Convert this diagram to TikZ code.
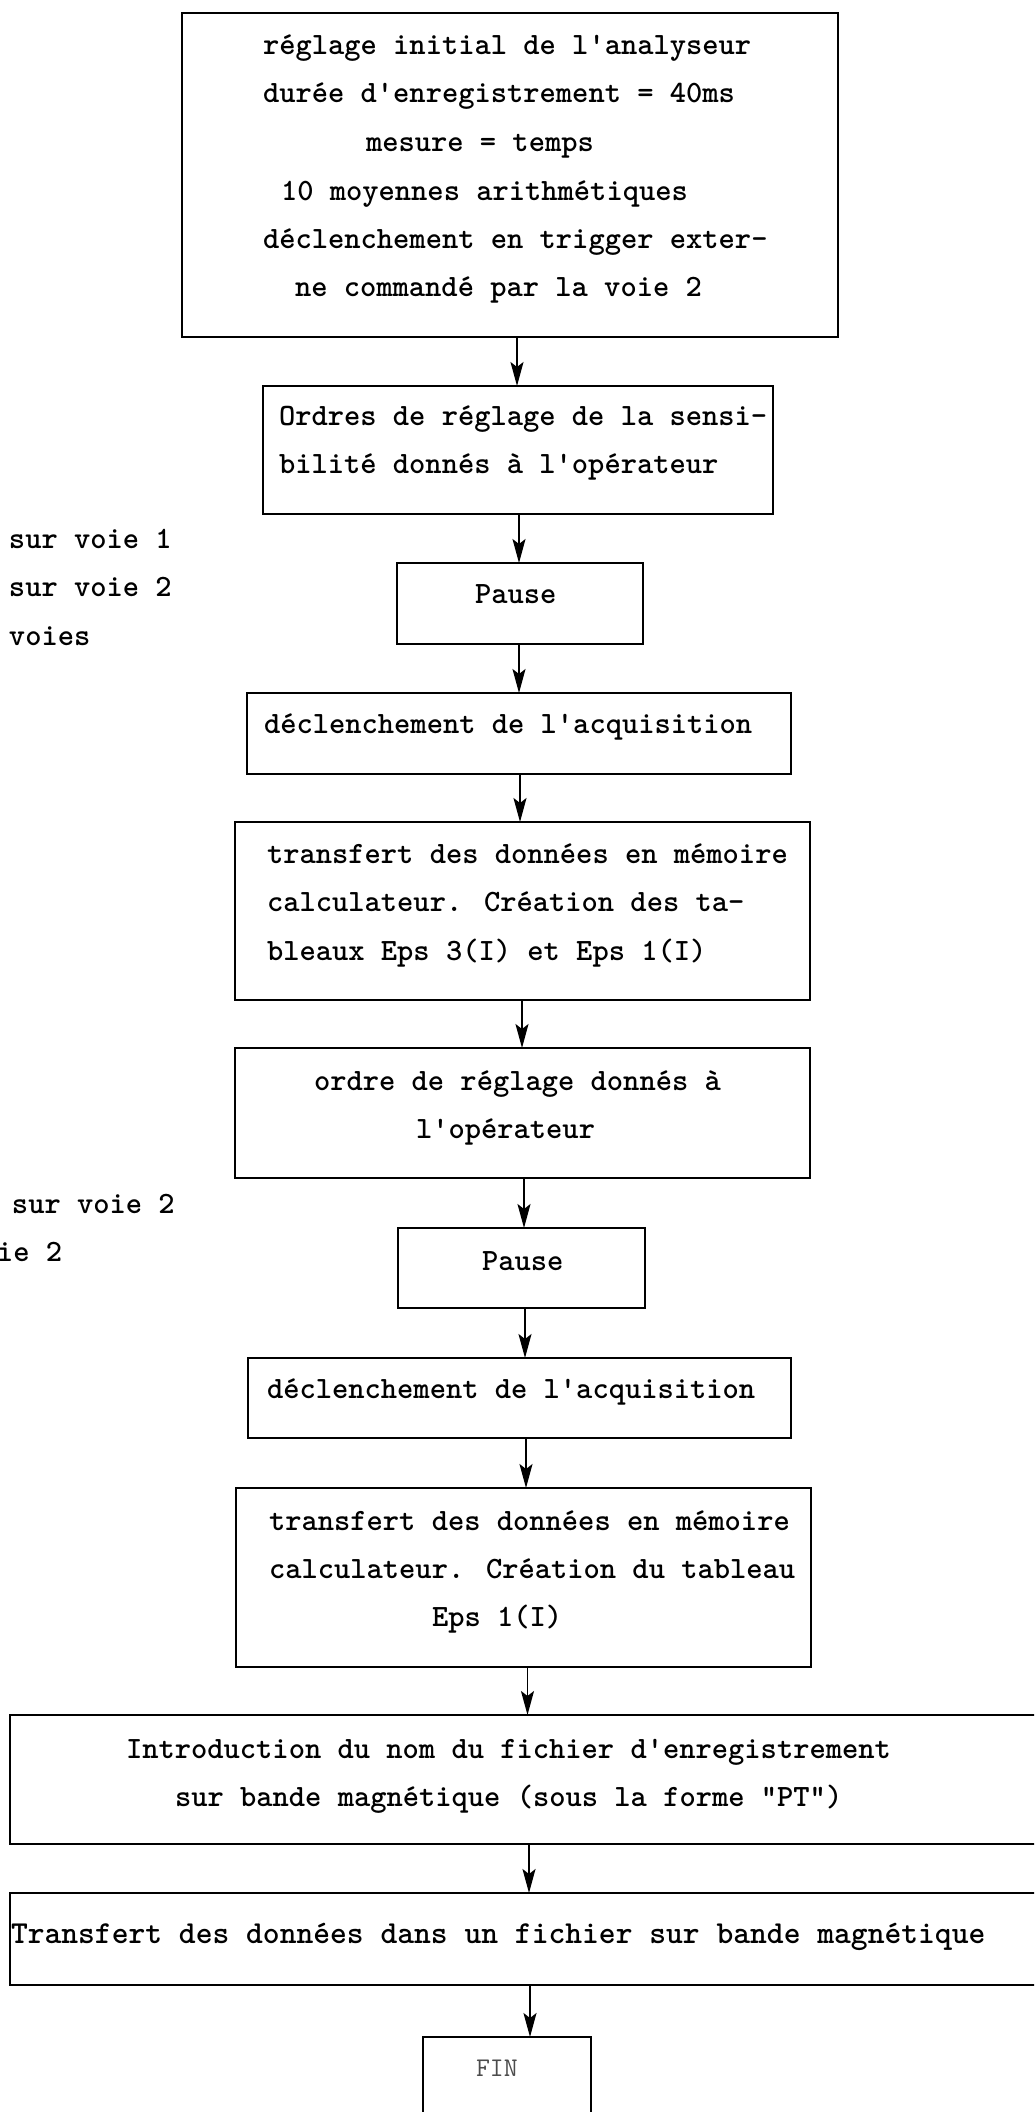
\documentclass[tikz,border=0pt]{standalone}
\usetikzlibrary{arrows.meta}
\newcommand\ap{\textquotesingle}
\begin{document}
\begin{tikzpicture}[x=1pt,y=-1pt]
\tikzset{
  box/.style={draw, line width=1.8pt, inner sep=0pt, outer sep=0pt},
  txt/.style={anchor=base west, inner sep=0pt, outer sep=0pt, font=\ttfamily\bfseries\fontsize{31}{48}\selectfont},
  arr/.style={line width=1.8pt, -{Stealth[length=24pt,width=13pt,inset=5pt]}},
}
\useasboundingbox (0,0) rectangle (1034,2112);
\clip (0,0) rectangle (1034,2112);
\fill[white] (0,0) rectangle (1034,2112);

% boxes
\node[box, minimum width=656pt, minimum height=324pt] (b1) at (510,175) {};
\node[box, minimum width=510pt, minimum height=128pt] (b2) at (518,450) {};
\node[box, minimum width=246pt, minimum height=81pt] (p1) at (520,603.5) {};
\node[box, minimum width=544pt, minimum height=81pt] (d1) at (519,733.5) {};
\node[box, minimum width=575pt, minimum height=178pt] (t1) at (522.5,911) {};
\node[box, minimum width=575pt, minimum height=130pt] (o1) at (522.5,1113) {};
\node[box, minimum width=247pt, minimum height=80pt] (p2) at (521.5,1268) {};
\node[box, minimum width=543pt, minimum height=80pt] (d2) at (519.5,1398) {};
\node[box, minimum width=575pt, minimum height=179pt] (t2) at (523.5,1577.5) {};
\node[box, minimum width=1040pt, minimum height=129pt] (in) at (530,1779.5) {};
\node[box, minimum width=1040pt, minimum height=92pt] (t3) at (530,1939) {};
\node[box, minimum width=168pt, minimum height=110pt] (fin) at (507,2092) {};

% texts
\node[txt] (l1) at (263,54) {réglage initial de l\ap analyseur};
\node[txt] (l2) at (263,102) {durée d\ap enregistrement = 40ms};
\node[txt] (l3) at (366,151) {mesure = temps};
\node[txt] (l4) at (281,200) {10 moyennes arithmétiques};
\node[txt] (l5) at (263,248) {déclenchement en trigger exter-};
\node[txt] (l6) at (295,296) {ne commandé par la voie 2};

\node[txt] (m1) at (279,425) {Ordres de réglage de la sensi-};
\node[txt] (m2) at (279,473) {bilité donnés à l\ap opérateur};

\node[txt] (s1) at (9,548) {sur voie 1};
\node[txt] (s2) at (9,596) {sur voie 2};
\node[txt] (s3) at (9,645) {voies};

\node[txt] (pa1) at (475,603) {Pause};
\node[txt] (dc1) at (264,733) {déclenchement de l\ap acquisition};

\node[txt] (n1) at (267,863) {transfert des données en mémoire};
\node[txt] (n2) at (267,911) {calculateur. Création des ta-};
\node[txt] (n3) at (267,960) {bleaux Eps 3(I) et Eps 1(I)};

\node[txt] (o1a) at (314,1090) {ordre de réglage donnés à};
\node[txt] (o1b) at (416,1138) {l\ap opérateur};

\node[txt] (s4) at (12,1213) {sur voie 2};
\node[txt] (s5) at (-3,1261) {ie 2};

\node[txt] (pa2) at (482,1270) {Pause};
\node[txt] (dc2) at (267,1398) {déclenchement de l\ap acquisition};

\node[txt] (r1) at (269,1530) {transfert des données en mémoire};
\node[txt] (r2) at (269,1578) {calculateur. Création du tableau};
\node[txt] (r3) at (432,1626) {Eps 1(I)};

\node[txt] (i1) at (126,1758) {Introduction du nom du fichier d\ap enregistrement};
\node[txt] (i2) at (175,1806) {sur bande magnétique (sous la forme \textquotedbl PT\textquotedbl)};

\node[txt, font=\ttfamily\bfseries\fontsize{32}{48}\selectfont] (u1) at (11,1943) {Transfert des données dans un fichier sur bande magnétique};

\node[txt, font=\ttfamily\fontsize{27}{30}\selectfont, text=black!70] (f1) at (476,2076) {FIN};

% connectors
\coordinate (a1) at (517,0);
\coordinate (a2) at (519,0);
\coordinate (a3) at (519,0);
\coordinate (a4) at (520,0);
\coordinate (a5) at (522,0);
\coordinate (a6) at (524,0);
\coordinate (a7) at (525,0);
\coordinate (a8) at (526,0);
\coordinate (a9) at (527.5,0);
\coordinate (a10) at (529,0);
\coordinate (a11) at (530,0);
\draw[arr] (b1.south -| a1) -- (b2.north -| a1);
\draw[arr] (b2.south -| a2) -- (p1.north -| a2);
\draw[arr] (p1.south -| a3) -- (d1.north -| a3);
\draw[arr] (d1.south -| a4) -- (t1.north -| a4);
\draw[arr] (t1.south -| a5) -- (o1.north -| a5);
\draw[arr] (o1.south -| a6) -- (p2.north -| a6);
\draw[arr] (p2.south -| a7) -- (d2.north -| a7);
\draw[arr] (d2.south -| a8) -- (t2.north -| a8);
\draw[arr] (t2.south -| a9) -- (in.north -| a9);
\draw[arr] (in.south -| a10) -- (t3.north -| a10);
\draw[arr] (t3.south -| a11) -- (fin.north -| a11);
\end{tikzpicture}
\end{document}
